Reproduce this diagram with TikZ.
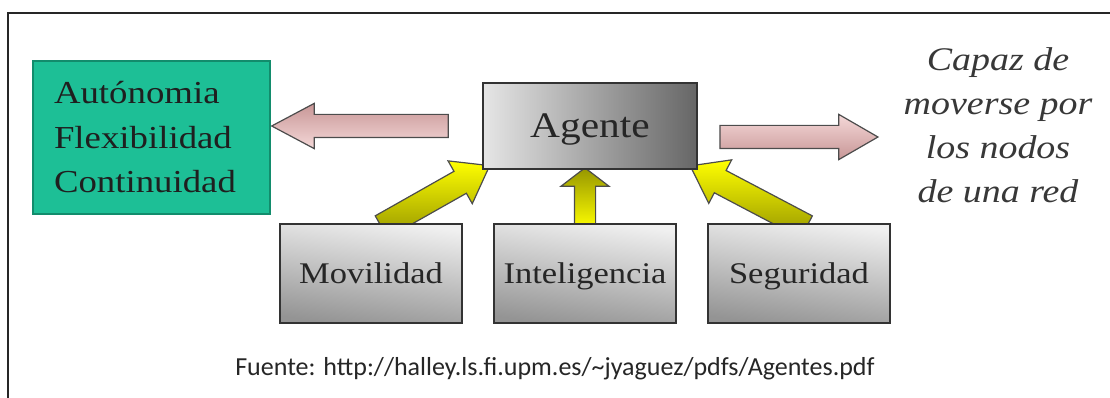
\documentclass[tikz,border=0pt]{standalone}
\usepackage{fontspec}
\setmainfont{Liberation Serif}[FakeStretch=1.15]
\newfontfamily\cursiva{Liberation Serif Italic}[FakeStretch=1.15]
\newfontfamily\sansfuente{Carlito}
\usepackage{xcolor}
\usetikzlibrary{positioning,calc,shapes.arrows}

\definecolor{verde}{RGB}{29,191,150}
\definecolor{verdeborde}{RGB}{18,140,108}
\definecolor{rosaA}{RGB}{244,216,216}
\definecolor{rosaB}{RGB}{200,150,150}
\definecolor{amarilloA}{RGB}{255,255,0}
\definecolor{amarilloB}{RGB}{150,150,0}

\pgfdeclarelayer{fondo}
\pgfsetlayers{fondo,main}

\begin{document}
\begin{tikzpicture}[x=1pt, y=-1pt,
  gray box/.style={draw=black!80, line width=1.8pt, inner sep=0pt, text=black!85},
  low box/.style={gray box, minimum width=182pt, minimum height=99pt,
    top color=black!6, bottom color=black!42, shading angle=-8,
    font=\fontsize{30}{36}\selectfont, text depth=0pt},
  blockarrow/.style={single arrow, draw=black!70, line width=1.2pt,
    inner xsep=0pt, single arrow head indent=0pt},
  blockarrow rosa izq/.style={blockarrow, inner ysep=11pt, single arrow head extend=11pt,
    single arrow tip angle=56, top color=rosaB, bottom color=rosaA},
  blockarrow rosa der/.style={blockarrow, inner ysep=11pt, single arrow head extend=11pt,
    single arrow tip angle=60, top color=rosaA, bottom color=rosaB},
  blockarrow diag/.style={blockarrow, inner ysep=12pt, single arrow head extend=12pt,
    single arrow tip angle=72, top color=amarilloA, bottom color=amarilloB},
  blockarrow recta/.style={blockarrow, inner ysep=10pt, single arrow head extend=13.5pt,
    single arrow tip angle=105, top color=amarilloB, bottom color=amarilloA}
]
\useasboundingbox (0,0) rectangle (1110,398);

% marco
\draw [line width=2.5pt, black!85] (1110,13) -- (8,13) -- (8,398);

\node [draw=verdeborde, line width=1.2pt, fill=verde, minimum width=237pt, minimum height=153pt,
  text width=195pt, inner xsep=21pt, inner ysep=0pt, align=left, text=black!88,
  font=\fontsize{32}{44.5}\selectfont] (cualidades) at (151.5,137.5)
  {Autónomia\\Flexibilidad\\Continuidad};

\node [gray box, minimum width=214pt, minimum height=86pt, left color=black!10,
  right color=black!60, font=\fontsize{36}{40}\selectfont, text depth=0pt]
  (agente) at (590,126) {Agente};

\foreach \n/\t [count=\i from 0] in {mov/Movilidad, int/Inteligencia, seg/Seguridad}
  \node [low box] (caja-\n) at (371+\i*214,273.5) {\t};

\node [align=center, inner sep=0pt, anchor=north, text=black!78,
  font=\cursiva\fontsize{33}{44}\selectfont] (movil) at (998,47)
  {Capaz de\\moverse por\\los nodos\\de una red};

\node [anchor=base, inner sep=0pt, font=\sansfuente\fontsize{26}{30}\selectfont, text=black!85]
  (fuente) at (555,375)
  {Fuente: http://halley.ls.fi.upm.es/\textasciitilde jyaguez/pdfs/Agentes.pdf};

% puntos de las flechas
\coordinate (baseM) at ($(caja-mov.north)+(17,0)$);
\coordinate (colaM) at ($(agente.south west)!1.15!(baseM)$);
\coordinate (colaS) at ($(agente.south east)!1.15!(caja-seg.north)$);
\coordinate (colaI) at ($(caja-int.north)+(0,10)$);
\coordinate (puntaI) at ($(caja-int.north |- agente.south)+(0,2)$);
\coordinate (colaL) at ($(agente.west)+(-23,0)$);
\coordinate (puntaL) at ($(cualidades.east |- colaL)+(12,0)$);
\coordinate (colaR) at ($(agente.east)+(12,11)$);
\coordinate (puntaR) at ($(colaR)+(158,0)$);

\begin{pgfonlayer}{fondo}
\foreach \desde/\hasta/\estilo in {colaM/agente.south west/diag, colaI/puntaI/recta,
    colaS/agente.south east/diag, colaL/puntaL/rosa izq, colaR/puntaR/rosa der}
  \path let \p1=($(\hasta)-(\desde)$), \n1={atan2(\y1,\x1)}, \n2={veclen(\x1,\y1)} in
    node [blockarrow \estilo, rotate=\n1, minimum height=\n2] at ($(\desde)!0.5!(\hasta)$) {};
\end{pgfonlayer}

\end{tikzpicture}
\end{document}
